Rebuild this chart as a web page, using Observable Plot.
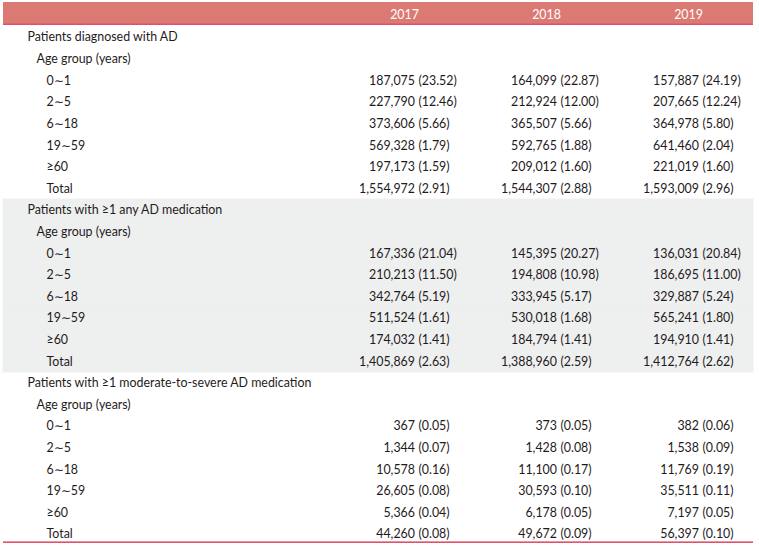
<!DOCTYPE html>
<html>
<head>
<meta charset="utf-8">
<script src="https://cdn.jsdelivr.net/npm/d3@7"></script>
<script src="https://cdn.jsdelivr.net/npm/@observablehq/plot@0.6"></script>
<style>
  html, body { margin: 0; padding: 0; background: #ffffff; }
  #chart svg { display: block; }
</style>
</head>
<body>
<div id="chart"></div>
<script>
const years = ["2017", "2018", "2019"];
const sections = [
  "Patients diagnosed with AD",
  "Patients with ≥1 any AD medication",
  "Patients with ≥1 moderate-to-severe AD medication"
];
const subheading = "Age group (years)";
const ageGroups = ["0∼1", "2∼5", "6∼18", "19∼59", "≥60", "Total"];

// counts per year (rows = 2017, 2018, 2019; columns = age groups)
const diagnosedCounts = [
  [187075, 227790, 373606, 569328, 197173, 1554972],
  [164099, 212924, 365507, 592765, 209012, 1544307],
  [157887, 207665, 364978, 641460, 221019, 1593009]
];
const diagnosedPct = [
  [23.52, 12.46, 5.66, 1.79, 1.59, 2.91],
  [22.87, 12.00, 5.66, 1.88, 1.60, 2.88],
  [24.19, 12.24, 5.80, 2.04, 1.60, 2.96]
];
const anyMedCounts = [
  [167336, 210213, 342764, 511524, 174032, 1405869],
  [145395, 194808, 333945, 530018, 184794, 1388960],
  [136031, 186695, 329887, 565241, 194910, 1412764]
];
const anyMedPct = [
  [21.04, 11.50, 5.19, 1.61, 1.41, 2.63],
  [20.27, 10.98, 5.17, 1.68, 1.41, 2.59],
  [20.84, 11.00, 5.24, 1.80, 1.41, 2.62]
];
const modSevCounts = [
  [367, 1344, 10578, 26605, 5366, 44260],
  [373, 1428, 11100, 30593, 6178, 49672],
  [382, 1538, 11769, 35511, 7197, 56397]
];
const modSevPct = [
  [0.05, 0.07, 0.16, 0.08, 0.04, 0.08],
  [0.05, 0.08, 0.17, 0.10, 0.05, 0.09],
  [0.06, 0.09, 0.19, 0.11, 0.05, 0.10]
];

// ---- Build table rows ----
const sectionCounts = [diagnosedCounts, anyMedCounts, modSevCounts];
const sectionPct = [diagnosedPct, anyMedPct, modSevPct];
const rowsPerSection = 2 + ageGroups.length;

const labels = [];
const cells = [];
sections.forEach((title, s) => {
  const base = s * rowsPerSection;
  labels.push({row: base, text: title, level: 0});
  labels.push({row: base + 1, text: subheading, level: 1});
  ageGroups.forEach((g, i) => {
    const row = base + 2 + i;
    labels.push({row, text: g, level: 2});
    years.forEach((yr, j) => {
      cells.push({row, year: yr, n: sectionCounts[s][j][i], p: sectionPct[s][j][i]});
    });
  });
});
const nRows = sections.length * rowsPerSection;
const shadedRows = d3.range(rowsPerSection, 2 * rowsPerSection);

const fmt = d3.format(",");
const ink = "#1f1b1c";
const headerFill = "#db7a73";
const lineColor = "#e2506a";

const chart = Plot.plot({
  width: 759,
  height: 551,
  marginTop: 0,
  marginBottom: 0,
  marginLeft: 3,
  marginRight: 6,
  style: {fontFamily: "Lato, 'Open Sans', sans-serif", fontSize: "12.4px", background: "#ffffff", color: ink},
  x: {type: "point", domain: years, range: [418, 702], padding: 0, round: false, axis: null},
  y: {type: "band", domain: d3.range(-1, nRows), range: [4.6, 544.8], padding: 0, round: false, axis: null},
  marks: [
    // shaded middle section
    Plot.cell(shadedRows, {y: d => d, fill: "#eeefef", stroke: "#eeefef"}),
    // header band and its rule
    Plot.cell([-1], {y: d => d, fill: headerFill, insetTop: -2.6, insetBottom: 2.2}),
    Plot.cell([-1], {y: d => d, fill: lineColor, insetTop: 18.9, insetBottom: 1.2}),
    // bottom rule
    Plot.cell([nRows - 1], {y: d => d, fill: lineColor, insetTop: 18.2, insetBottom: 1.8}),
    // header text
    Plot.text(years, {x: d => d, y: () => -1, text: d => d, fill: "#ffffff", dx: -14, dy: -1}),
    // row labels
    Plot.text(labels.filter(d => d.level === 0), {y: "row", text: "text", frameAnchor: "left", textAnchor: "start", dx: 24, fill: ink}),
    Plot.text(labels.filter(d => d.level === 1), {y: "row", text: "text", frameAnchor: "left", textAnchor: "start", dx: 33, fill: ink}),
    Plot.text(labels.filter(d => d.level === 2), {y: "row", text: "text", frameAnchor: "left", textAnchor: "start", dx: 43, fill: ink}),
    // values
    Plot.text(cells, {x: "year", y: "row", text: d => fmt(d.n), textAnchor: "end", dx: -3.5, fill: ink}),
    Plot.text(cells, {x: "year", y: "row", text: d => `(${d.p.toFixed(2)})`, textAnchor: "start", dx: 0, fill: ink})
  ]
});
document.getElementById("chart").appendChild(chart);
</script>
</body>
</html>
